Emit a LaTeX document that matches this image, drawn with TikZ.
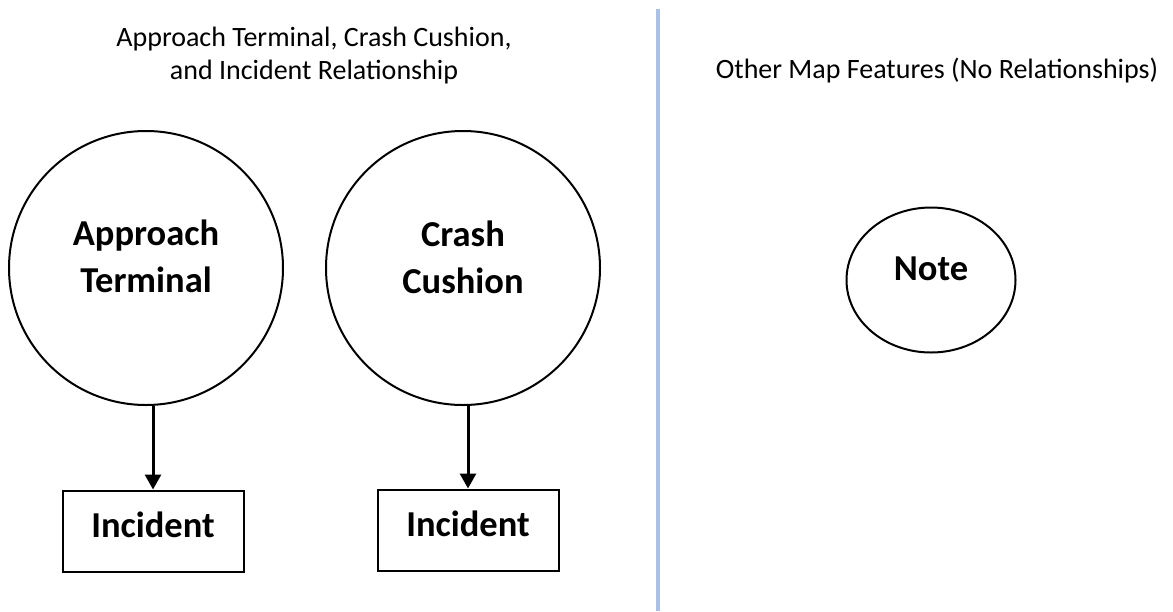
\documentclass[tikz,border=0pt]{standalone}
\usepackage{fontspec}
\setmainfont{Carlito}
\usetikzlibrary{shapes.geometric,arrows.meta}
\definecolor{divider}{RGB}{170,192,228}

\begin{document}
\begin{tikzpicture}[x=1pt, y=-1pt,
    bigcircle/.style={draw, circle, line width=2pt, minimum size=274pt, inner sep=0pt},
    noteshape/.style={draw, ellipse, line width=2pt, minimum width=169pt, minimum height=145pt, inner sep=0pt},
    incbox/.style={draw, rectangle, line width=2pt, minimum width=181pt, minimum height=81pt, font=\bfseries\fontsize{36.5}{47}\selectfont, text depth=12pt},
    bigtext/.style={font=\bfseries\fontsize{36.5}{47}\selectfont, align=center, inner sep=0pt},
    headtext/.style={font=\fontsize{28}{33}\selectfont, align=center, inner sep=0pt},
    rel/.style={line width=3pt, -{Triangle[width=16pt,length=15pt]}}]
    \useasboundingbox (0,0) rectangle (1173,611);

    % Headings
    \node[headtext, anchor=base] (lefthead) at (314,79) {Approach Terminal, Crash Cushion,\\and Incident Relationship};
    \node[headtext, anchor=base] (righthead) at (937,78) {Other Map Features (No Relationships)};

    % Divider
    \coordinate (divtop) at (658,9);
    \coordinate (divbot) at (658,611);
    \draw[divider, line width=4pt] (divtop) -- (divbot);

    % Circles
    \node[bigcircle] (appr) at (146,268) {};
    \node[bigtext, anchor=base] (apprtext) at (146,292) {Approach\\Terminal};
    \node[bigcircle] (cush) at (463,268) {};
    \node[bigtext, anchor=base] (cushtext) at (463,293) {Crash\\Cushion};

    % Incidents
    \node[incbox] (inc1) at (153,531) {Incident};
    \node[incbox] (inc2) at (468,530) {Incident};

    % Connections
    \draw[rel] (inc1.north |- appr.south) -- (inc1.north);
    \draw[rel] (inc2.north |- cush.south) -- (inc2.north);

    % Note
    \node[noteshape] (note) at (931,280) {};
    \node[bigtext, anchor=base] (notetext) at (931,280) {Note};
\end{tikzpicture}
\end{document}
